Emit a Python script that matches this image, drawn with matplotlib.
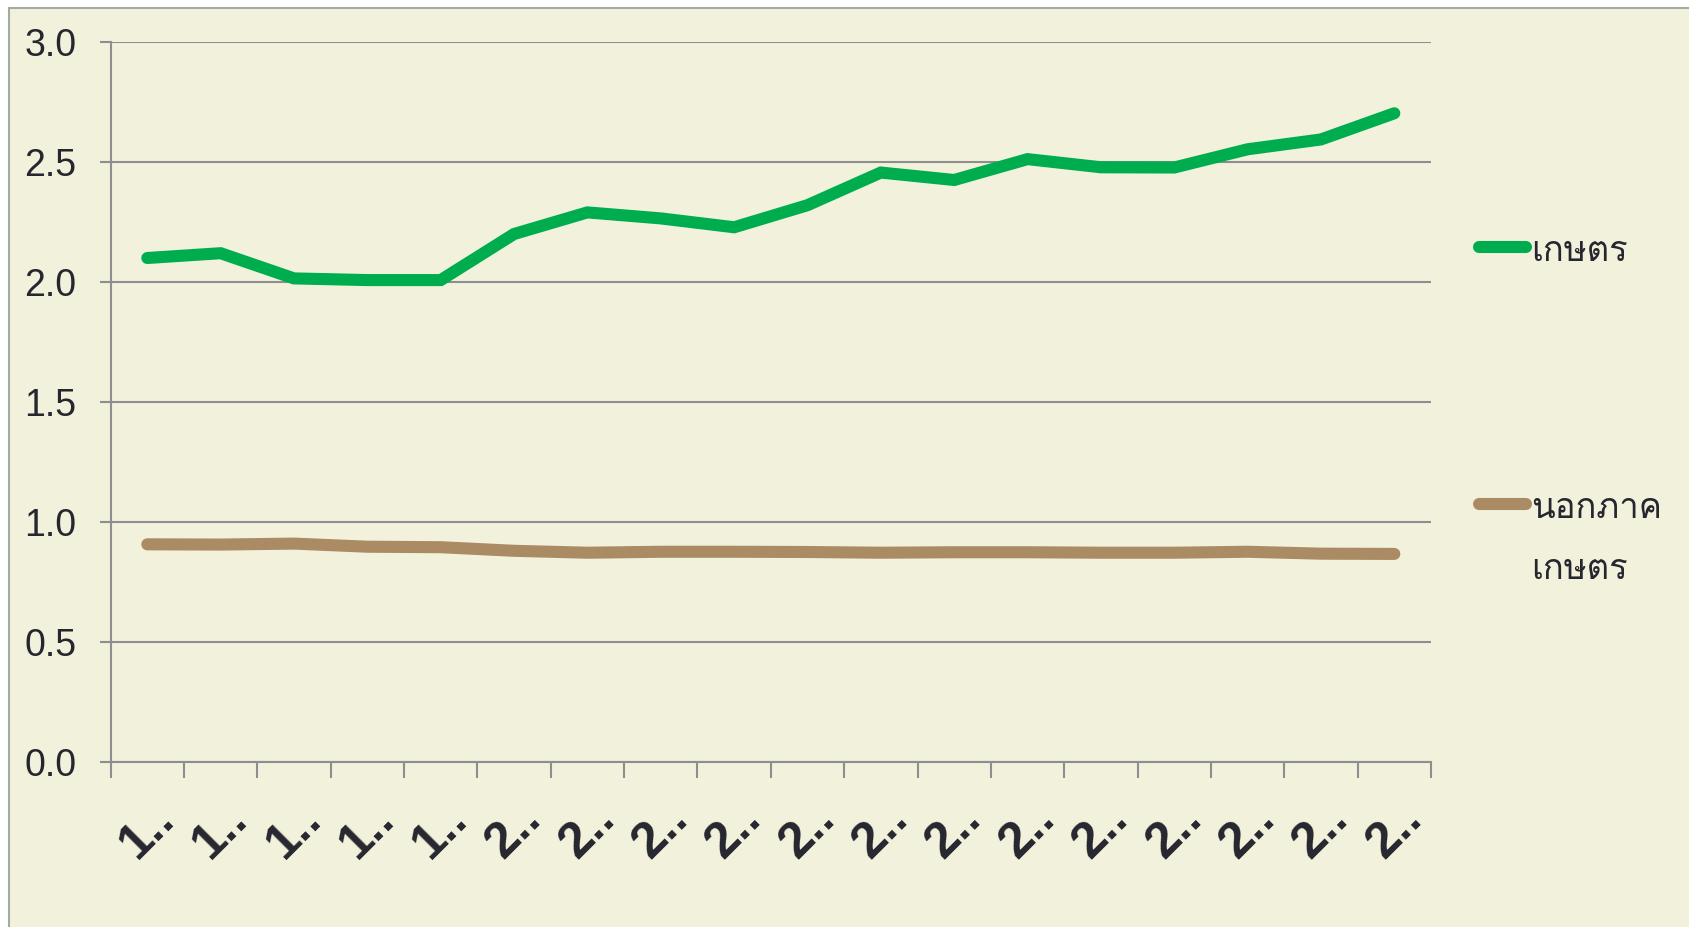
import matplotlib
matplotlib.use("Agg")
import matplotlib.pyplot as plt
from matplotlib import font_manager, ft2font
from matplotlib.patches import Rectangle

# ---------------- data ----------------
categories = ["1..", "1..", "1..", "1..", "1..", "2..", "2..", "2..", "2..",
              "2..", "2..", "2..", "2..", "2..", "2..", "2..", "2..", "2.."]
agri = [2.10, 2.12, 2.015, 2.008, 2.008, 2.20, 2.29, 2.265, 2.228, 2.32,
        2.456, 2.425, 2.512, 2.478, 2.477, 2.553, 2.594, 2.703]
nonagri = [0.907, 0.906, 0.910, 0.897, 0.895, 0.880, 0.872, 0.876, 0.876,
           0.875, 0.872, 0.874, 0.874, 0.872, 0.872, 0.876, 0.868, 0.867]
series_labels = ["เกษตร", "นอกภาค\nเกษตร"]
yticks = [0.0, 0.5, 1.0, 1.5, 2.0, 2.5, 3.0]

# ---------------- fonts ----------------
thai_family = None
for f in font_manager.fontManager.ttflist:
    try:
        ft = ft2font.FT2Font(f.fname)
        cm = ft.get_charmap()
        if 0x0E01 in cm and 0x0E29 in cm:
            thai_family = f.name
            break
    except Exception:
        pass
fam = ["Liberation Sans", "DejaVu Sans"]
if thai_family:
    fam = ["Liberation Sans", thai_family, "DejaVu Sans"]
plt.rcParams["font.family"] = fam

BG = "#F2F1DC"
GRID = "#8E8E8E"
TXT = "#26262F"
GREEN = "#00AD4E"
BROWN = "#AB8B63"

W, H = 1690, 927
fig = plt.figure(figsize=(W / 100, H / 100), dpi=100)
fig.patch.set_facecolor("white")
fig.patches.append(Rectangle((9 / W, -0.1), 1.2, 1 - 8 / H + 0.1,
                             transform=fig.transFigure, facecolor=BG,
                             edgecolor="#A3AAA3", linewidth=1.5, zorder=-5))

ax = fig.add_axes([110.6 / W, 1 - 762 / H, (1431 - 110.6) / W, (762 - 42) / H])
ax.set_facecolor("none")

x = list(range(len(categories)))
ax.plot(x, agri, color=GREEN, lw=8.7, solid_capstyle="round",
        solid_joinstyle="miter", label=series_labels[0], zorder=3)
ax.plot(x, nonagri, color=BROWN, lw=8.7, solid_capstyle="round",
        solid_joinstyle="miter", label=series_labels[1], zorder=3)

ax.set_xlim(-0.5, len(categories) - 0.5)
ax.set_ylim(0, 3.0)
ax.set_yticks(yticks)
ax.set_yticklabels([f"{v:.1f}" for v in yticks])
ax.yaxis.grid(True, color=GRID, lw=1.5)
ax.set_axisbelow(True)

ax.set_xticks(x)
ax.set_xticklabels(categories, rotation=45, ha="center", va="top",
                   fontsize=36, fontweight="bold", color=TXT)
ax.set_xticks([i - 0.5 for i in range(len(categories) + 1)], minor=True)
ax.tick_params(axis="x", which="major", length=0, pad=24)
ax.tick_params(axis="x", which="minor", length=11.5, width=1.5, color=GRID)
ax.tick_params(axis="y", length=8, width=1.5, color=GRID, labelsize=27,
               labelcolor=TXT, pad=16.5)

for s in ["top", "right"]:
    ax.spines[s].set_visible(False)
for s in ["left", "bottom"]:
    ax.spines[s].set_color(GRID)
    ax.spines[s].set_linewidth(1.5)

leg = ax.legend(loc="upper left", bbox_to_anchor=(1465 / W, 1 - 221 / H),
                bbox_transform=fig.transFigure, frameon=False,
                fontsize=25, handlelength=1.35, handletextpad=0.15,
                labelspacing=6.45, borderaxespad=0)
for t in leg.get_texts():
    t.set_color(TXT)
    t.set_linespacing(2.07)
for col in leg._legend_handle_box.get_children():
    for item in col.get_children():
        item.align = "top"

fig.savefig("out.png", dpi=100, facecolor=fig.get_facecolor())
